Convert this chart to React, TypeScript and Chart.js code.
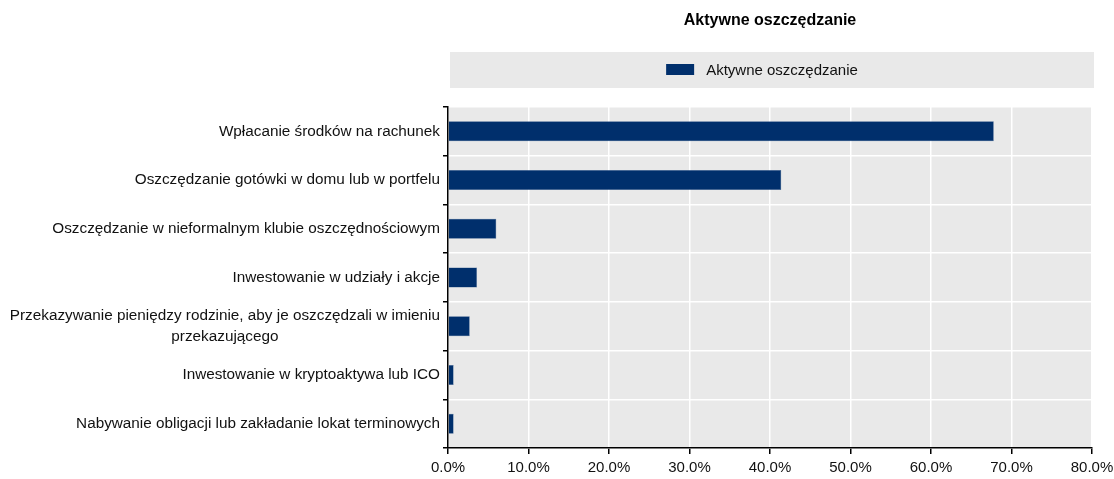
import React, { useEffect, useRef } from "react";
import { Chart, registerables } from "chart.js";

Chart.register(...registerables);

const chartTitle = "Aktywne oszczędzanie";
const seriesName = "Aktywne oszczędzanie";
const categories: (string | string[])[] = [
  "Wpłacanie środków na rachunek",
  "Oszczędzanie gotówki w domu lub w portfelu",
  "Oszczędzanie w nieformalnym klubie oszczędnościowym",
  "Inwestowanie w udziały i akcje",
  ["Przekazywanie pieniędzy rodzinie, aby je oszczędzali w imieniu", "przekazującego"],
  "Inwestowanie w kryptoaktywa lub ICO",
  "Nabywanie obligacji lub zakładanie lokat terminowych",
];
const values = [67.8, 41.4, 6.0, 3.6, 2.7, 0.7, 0.7];
const xTicks = [0, 10, 20, 30, 40, 50, 60, 70, 80];

const FONT = "'Liberation Sans', Arial, sans-serif";
const BAR = "#002F6C";
const PANEL = "#E9E9E9";

const decor = {
  id: "decor",
  beforeDraw(chart: any) {
    const { ctx, chartArea } = chart;
    ctx.save();
    ctx.fillStyle = PANEL;
    ctx.fillRect(chartArea.left, chartArea.top, chartArea.right - chartArea.left, chartArea.bottom - chartArea.top);
    // legend panel
    ctx.fillRect(chartArea.left + 2, 52, chartArea.right - chartArea.left, 36);
    // title
    const cx = (chartArea.left + chartArea.right) / 2;
    ctx.fillStyle = "#000";
    ctx.font = `bold 16px ${FONT}`;
    ctx.textAlign = "center";
    ctx.textBaseline = "middle";
    ctx.fillText(chartTitle, cx, 21);
    // legend item
    ctx.font = `15px ${FONT}`;
    const tw = ctx.measureText(seriesName).width;
    const sw = 28, gap = 12;
    const total = sw + gap + tw;
    const lx = cx - 8 - total / 2;
    ctx.fillStyle = BAR;
    ctx.fillRect(lx, 64, sw, 11);
    ctx.fillStyle = "#111";
    ctx.textAlign = "left";
    ctx.fillText(seriesName, lx + sw + gap, 71);
    ctx.restore();
  },
  afterDraw(chart: any) {
    const { ctx } = chart;
    const y = chart.scales.y;
    ctx.save();
    ctx.font = `15.3px ${FONT}`;
    ctx.fillStyle = "#111";
    ctx.textBaseline = "middle";
    const right = chart.chartArea.left - 8;
    categories.forEach((lab, i) => {
      const py = y.getPixelForValue(i);
      if (Array.isArray(lab)) {
        const widths = lab.map((l) => ctx.measureText(l).width);
        const mw = Math.max(...widths);
        const center = right - mw / 2;
        const lh = 21;
        ctx.textAlign = "center";
        lab.forEach((l, j) => {
          ctx.fillText(l, center, py + (j - (lab.length - 1) / 2) * lh);
        });
      } else {
        ctx.textAlign = "right";
        ctx.fillText(lab, right, py);
      }
    });
    ctx.restore();
  },
};

export default function App() {
  const ref = useRef<HTMLCanvasElement>(null);
  useEffect(() => {
    document.body.style.margin = "0";
    const chart = new Chart(ref.current!, {
      type: "bar",
      data: {
        labels: categories as any,
        datasets: [
          {
            label: seriesName,
            data: values,
            backgroundColor: BAR,
            borderColor: "#3A5F8F",
            borderWidth: 0.5,
            barPercentage: 0.41,
            categoryPercentage: 1,
          },
        ],
      },
      options: {
        indexAxis: "y",
        animation: false,
        responsive: false,
        layout: { padding: { top: 107, left: 0, right: 22, bottom: 0 } },
        plugins: {
          legend: { display: false },
          title: { display: false },
          tooltip: { enabled: false },
        },
        scales: {
          x: {
            min: 0,
            max: 80,
            afterBuildTicks: (s: any) => {
              s.ticks = xTicks.map((v) => ({ value: v }));
            },
            afterFit: (s: any) => {
              s.height = 31;
              s.paddingLeft = 0;
              s.paddingRight = 0;
            },
            grid: { color: "#FFFFFF", lineWidth: 1.5, tickColor: "#000", tickLength: 6, drawOnChartArea: true },
            border: { color: "#000", width: 1.5 },
            ticks: {
              font: { family: FONT, size: 15 },
              color: "#111",
              padding: 5,
              maxRotation: 0,
              callback: (v: any) => Number(v).toFixed(1) + "%",
            },
          },
          y: {
            grid: { color: "#FFFFFF", lineWidth: 1.5, tickColor: "#000", tickLength: 5, offset: true },
            border: { color: "#000", width: 1.5 },
            ticks: { display: false },
            afterFit: (s: any) => {
              s.width = 448;
            },
          },
        },
      },
      plugins: [decor],
    });
    return () => chart.destroy();
  }, []);
  return <canvas ref={ref} width={1114} height={479} style={{ display: "block" }} />;
}
